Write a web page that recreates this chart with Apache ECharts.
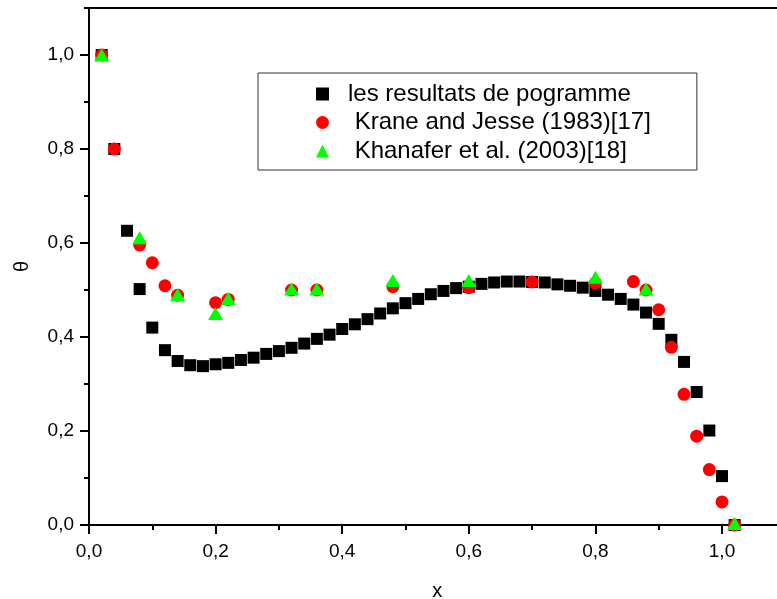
<!DOCTYPE html>
<html>
<head>
<meta charset="utf-8">
<script src="https://cdn.jsdelivr.net/npm/echarts@6/dist/echarts.min.js"></script>
<style>
  html, body { margin: 0; padding: 0; background: #fff; }
  #chart { width: 777px; height: 599px; }
</style>
</head>
<body>
<div id="chart"></div>
<script>
// Dimensionless temperature profile theta along x
const xProgram = [0.02, 0.04, 0.06, 0.08, 0.10, 0.12, 0.14, 0.16, 0.18, 0.20,
  0.22, 0.24, 0.26, 0.28, 0.30, 0.32, 0.34, 0.36, 0.38, 0.40,
  0.42, 0.44, 0.46, 0.48, 0.50, 0.52, 0.54, 0.56, 0.58, 0.60,
  0.62, 0.64, 0.66, 0.68, 0.70, 0.72, 0.74, 0.76, 0.78, 0.80,
  0.82, 0.84, 0.86, 0.88, 0.90, 0.92, 0.94, 0.96, 0.98, 1.00, 1.02];
const thetaProgram = [1.0, 0.8, 0.626, 0.502, 0.420, 0.372, 0.349, 0.340, 0.338, 0.342,
  0.345, 0.351, 0.356, 0.364, 0.370, 0.377, 0.386, 0.396, 0.405, 0.417,
  0.427, 0.438, 0.450, 0.461, 0.472, 0.481, 0.491, 0.498, 0.504, 0.507,
  0.513, 0.516, 0.518, 0.518, 0.517, 0.516, 0.512, 0.509, 0.505, 0.498,
  0.490, 0.481, 0.469, 0.452, 0.428, 0.394, 0.347, 0.283, 0.201, 0.104, 0.0];

const xKrane = [0.02, 0.04, 0.08, 0.10, 0.12, 0.14, 0.20, 0.22, 0.32, 0.36, 0.48, 0.60,
  0.70, 0.80, 0.86, 0.88, 0.90, 0.92, 0.94, 0.96, 0.98, 1.00, 1.02];
const thetaKrane = [1.0, 0.8, 0.596, 0.558, 0.509, 0.489, 0.473, 0.480, 0.500, 0.500, 0.507, 0.505,
  0.517, 0.515, 0.518, 0.500, 0.458, 0.378, 0.278, 0.189, 0.118, 0.049, 0.0];

const xKhanafer = [0.02, 0.08, 0.14, 0.20, 0.22, 0.32, 0.36, 0.48, 0.60, 0.80, 0.88, 1.02];
const thetaKhanafer = [1.0, 0.611, 0.490, 0.450, 0.482, 0.502, 0.502, 0.520, 0.520, 0.527, 0.502, 0.003];

const seriesNames = ['les resultats de pogramme', ' Krane and Jesse (1983)[17]', ' Khanafer et al. (2003)[18]'];

const pairs = (xs, ys) => xs.map((x, i) => [x, ys[i]]);
const comma = v => (Math.round(v * 10) / 10).toFixed(1).replace('.', ',');

const FONT = 'Liberation Sans, Arial, sans-serif';
const AX = { color: '#000', width: 2 };

// plot geometry: px per unit on each axis, origin at (L, B); both axes span 0..1.1
const L = 89, B = 525, PX = 633, PY = 470;

const chart = echarts.init(document.getElementById('chart'), null, { renderer: 'canvas' });
chart.setOption({
  animation: false,
  backgroundColor: '#fff',
  grid: [
    { left: L, top: B - 1.1 * PY, width: 1.1 * PX, height: 1.1 * PY, containLabel: false, outerBoundsMode: 'none' },
    { left: L, top: B - PY, width: PX, height: PY, containLabel: false, outerBoundsMode: 'none' }
  ],
  legend: {
    orient: 'vertical',
    left: 258, top: 73,
    padding: [9, 46, 7, 58],
    itemGap: 4.5,
    itemWidth: 13, itemHeight: 13,
    borderColor: '#333', borderWidth: 1,
    textStyle: { fontFamily: FONT, fontSize: 24, color: '#000', lineHeight: 24, padding: [0, 0, 0, 14] },
    data: seriesNames
  },
  xAxis: [
    { // bottom axis line with minor ticks
      type: 'value', gridIndex: 0, min: 0, max: 1.1, interval: 0.1,
      axisLine: { show: true, onZero: false, lineStyle: AX },
      axisTick: { show: true, inside: false, length: 5, lineStyle: AX },
      axisLabel: { show: false }, splitLine: { show: false },
      name: 'x', nameLocation: 'middle', nameGap: 56,
      nameTextStyle: { fontFamily: FONT, fontSize: 20, color: '#000' }
    },
    { // top frame line
      type: 'value', gridIndex: 0, position: 'top', min: 0, max: 1.1,
      axisLine: { show: true, onZero: false, lineStyle: AX },
      axisTick: { show: false }, axisLabel: { show: false }, splitLine: { show: false }
    },
    { // major ticks and labels
      type: 'value', gridIndex: 1, min: 0, max: 1.0, interval: 0.2,
      axisLine: { show: false, onZero: false },
      axisTick: { show: true, inside: false, length: 9, lineStyle: AX },
      axisLabel: { margin: 17, fontFamily: FONT, fontSize: 19, color: '#000', formatter: comma },
      splitLine: { show: false }
    }
  ],
  yAxis: [
    {
      type: 'value', gridIndex: 0, min: 0, max: 1.1, interval: 0.1,
      axisLine: { show: true, onZero: false, lineStyle: AX },
      axisTick: { show: true, inside: false, length: 5, lineStyle: AX },
      axisLabel: { show: false }, splitLine: { show: false },
      name: 'θ', nameLocation: 'middle', nameGap: 57, nameRotate: 90,
      nameTextStyle: { fontFamily: FONT, fontSize: 20, color: '#000' }
    },
    {
      type: 'value', gridIndex: 1, min: 0, max: 1.0, interval: 0.2,
      axisLine: { show: false, onZero: false },
      axisTick: { show: true, inside: false, length: 9, lineStyle: AX },
      axisLabel: { margin: 15, fontFamily: FONT, fontSize: 19, color: '#000', formatter: comma },
      splitLine: { show: false }
    }
  ],
  series: [
    {
      name: seriesNames[0], type: 'scatter', xAxisIndex: 0, yAxisIndex: 0,
      symbol: 'rect', symbolSize: 12,
      itemStyle: { color: '#000', opacity: 1 },
      data: pairs(xProgram, thetaProgram), z: 2
    },
    {
      name: seriesNames[1], type: 'scatter', xAxisIndex: 0, yAxisIndex: 0,
      symbol: 'circle', symbolSize: 13,
      itemStyle: { color: '#ff0000', opacity: 1 },
      data: pairs(xKrane, thetaKrane), z: 3
    },
    {
      name: seriesNames[2], type: 'scatter', xAxisIndex: 0, yAxisIndex: 0,
      symbol: 'triangle', symbolSize: [15, 13],
      itemStyle: { color: '#00ff00', opacity: 1 },
      data: pairs(xKhanafer, thetaKhanafer), z: 4
    }
  ]
});
</script>
</body>
</html>
